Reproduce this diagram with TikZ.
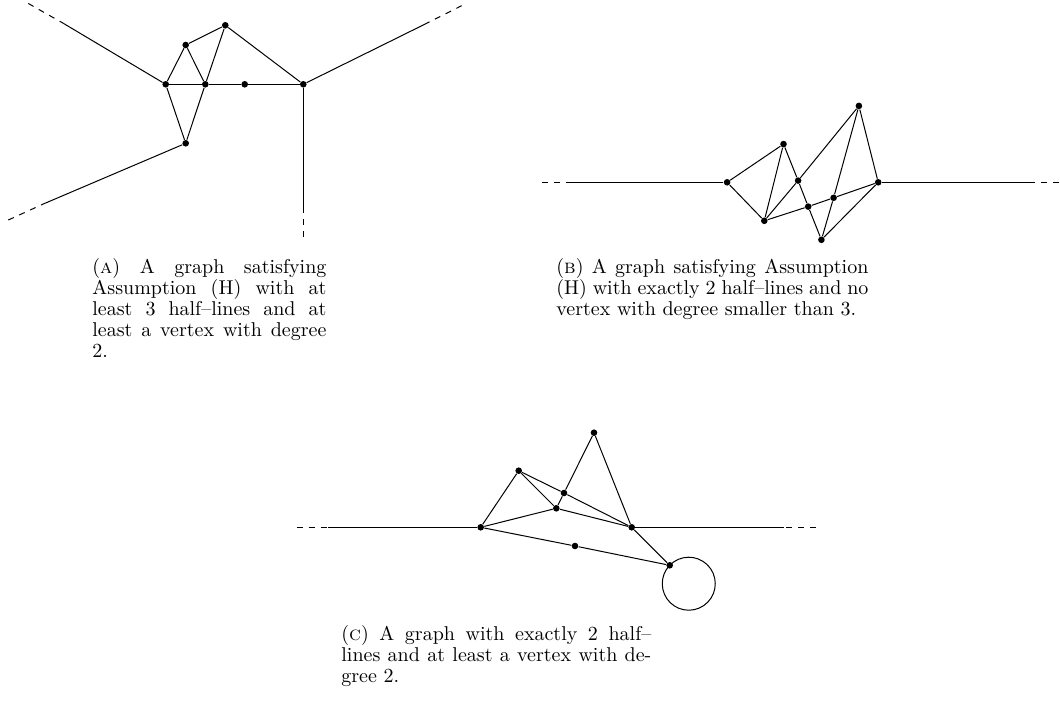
\documentclass[tikz,border=0pt]{standalone}
\usepackage{tikz}
\hyphenation{Assumption}

\begin{document}
\begin{tikzpicture}[x=0.5pt, y=-0.5pt,
  vertex/.style={circle, fill, inner sep=0pt, minimum size=3.3pt},
  gline/.style={line width=0.5pt},
  halfdash/.style={line width=0.5pt, dashed},
  captext/.style={anchor=north west, inner sep=0pt, align=justify,
    font=\fontsize{10}{10.6}\selectfont},
]
\useasboundingbox (0,0) rectangle (1060,711);

% ── (a) three half-lines ─────────────────────────────────────────────────────
\node[vertex] (atop) at (225.3, 25.3) {};
\node[vertex] (aul)  at (185.7, 45.0) {};
\node[vertex] (al)   at (165.7, 84.3) {};
\node[vertex] (am)   at (205.3, 84.3) {};
\node[vertex] (adeg) at (244.7, 84.3) {};
\node[vertex] (ar)   at (303.3, 84.3) {};
\node[vertex] (ab)   at (185.7,143.3) {};
\coordinate (ah1) at (63.3, 23.3);   \coordinate (ah1e) at (28.3, 3.5);
\coordinate (ah2) at (426.7, 23.3);  \coordinate (ah2e) at (461.7, 5.7);
\coordinate (ah3) at (43.3, 204.0);  \coordinate (ah3e) at (8.3, 220.0);
\coordinate (ah4) at (303.3, 206.7); \coordinate (ah4e) at (303.3, 236.7);

\draw[gline] (al) -- (aul) -- (atop) -- (ar);
\draw[gline] (aul) -- (am) -- (atop);
\draw[gline] (al) -- (am) -- (adeg) -- (ar);
\draw[gline] (al) -- (ab) -- (am);
\draw[gline] (al) -- (ah1);  \draw[halfdash] (ah1e) -- (ah1);
\draw[gline] (ar) -- (ah2);  \draw[halfdash] (ah2e) -- (ah2);
\draw[gline] (ab) -- (ah3);  \draw[halfdash] (ah3e) -- (ah3);
\draw[gline] (ar) -- (ah4);  \draw[halfdash] (ah4e) -- (ah4);

\node[captext, text width=117pt] (capa) at (92, 257.7)
  {(\textsc{a}) A graph satisfying Assumption (H) with at least 3 half--lines and at least a vertex with degree 2.};

% ── (b) two half-lines, no degree-2 vertex ──────────────────────────────────
\node[vertex] (ba) at (727.1,182.3) {};
\node[vertex] (bb) at (783.5,144.1) {};
\node[vertex] (bc) at (764.3,220.8) {};
\node[vertex] (bd) at (798.1,180.6) {};
\node[vertex] (be) at (808.2,206.6) {};
\node[vertex] (bf) at (833.6,197.8) {};
\node[vertex] (bg) at (858.9,105.9) {};
\node[vertex] (bh) at (878.2,182.3) {};
\node[vertex] (bi) at (821.4,239.8) {};
\coordinate (bh1) at (572.3,182.3);  \coordinate (bh1e) at (541.8,182.3);
\coordinate (bh2) at (1028.6,182.3); \coordinate (bh2e) at (1059.0,182.3);

\draw[gline] (bc) -- (ba) -- (bb) -- (bc);
\draw[gline] (bb) -- (bd) -- (be) -- (bi);
\draw[gline] (bc) -- (bd) -- (bg);
\draw[gline] (bc) -- (be) -- (bf) -- (bh);
\draw[gline] (bg) -- (bf) -- (bi);
\draw[gline] (bg) -- (bh) -- (bi);
\draw[gline] (ba) -- (bh1);  \draw[halfdash] (bh1e) -- (bh1);
\draw[gline] (bh) -- (bh2);  \draw[halfdash] (bh2e) -- (bh2);

\node[captext, text width=156pt] (capb) at (556, 257.7)
  {(\textsc{b}) A graph satisfying Assumption (H) with exactly 2 half--lines and no vertex with degree smaller than 3.};

% ── (c) two half-lines, a loop and a degree-2 vertex ────────────────────────
\node[vertex] (cp) at (480.7,527.3) {};
\node[vertex] (cq) at (518.7,470.7) {};
\node[vertex] (cr) at (556.3,508.3) {};
\node[vertex] (cs) at (564.0,493.0) {};
\node[vertex] (ct) at (594.0,432.7) {};
\node[vertex] (cu) at (631.7,527.3) {};
\node[vertex] (cw) at (575.0,546.0) {};
\node[vertex] (cx) at (669.7,565.3) {};
\coordinate (ch1) at (328.3,527.3); \coordinate (ch1e) at (296.7,527.3);
\coordinate (ch2) at (783.6,527.3); \coordinate (ch2e) at (815.7,527.3);

\draw[gline] (cp) -- (cq) -- (cs) -- (cu);
\draw[gline] (cq) -- (cr) -- (cu);
\draw[gline] (cp) -- (cr) -- (cs) -- (ct) -- (cu);
\draw[gline] (cp) -- (cw) -- (cx) -- (cu);
\draw[gline] (cx.center) arc[start angle=136, delta angle=360, radius=13.25pt];
\draw[gline] (cp) -- (ch1);  \draw[halfdash] (ch1e) -- (ch1);
\draw[gline] (cu) -- (ch2);  \draw[halfdash] (ch2e) -- (ch2);

\node[captext, text width=155pt] (capc) at (341, 625)
  {(\textsc{c}) A graph with exactly 2 half--lines and at least a vertex with degree 2.};

\end{tikzpicture}
\end{document}
